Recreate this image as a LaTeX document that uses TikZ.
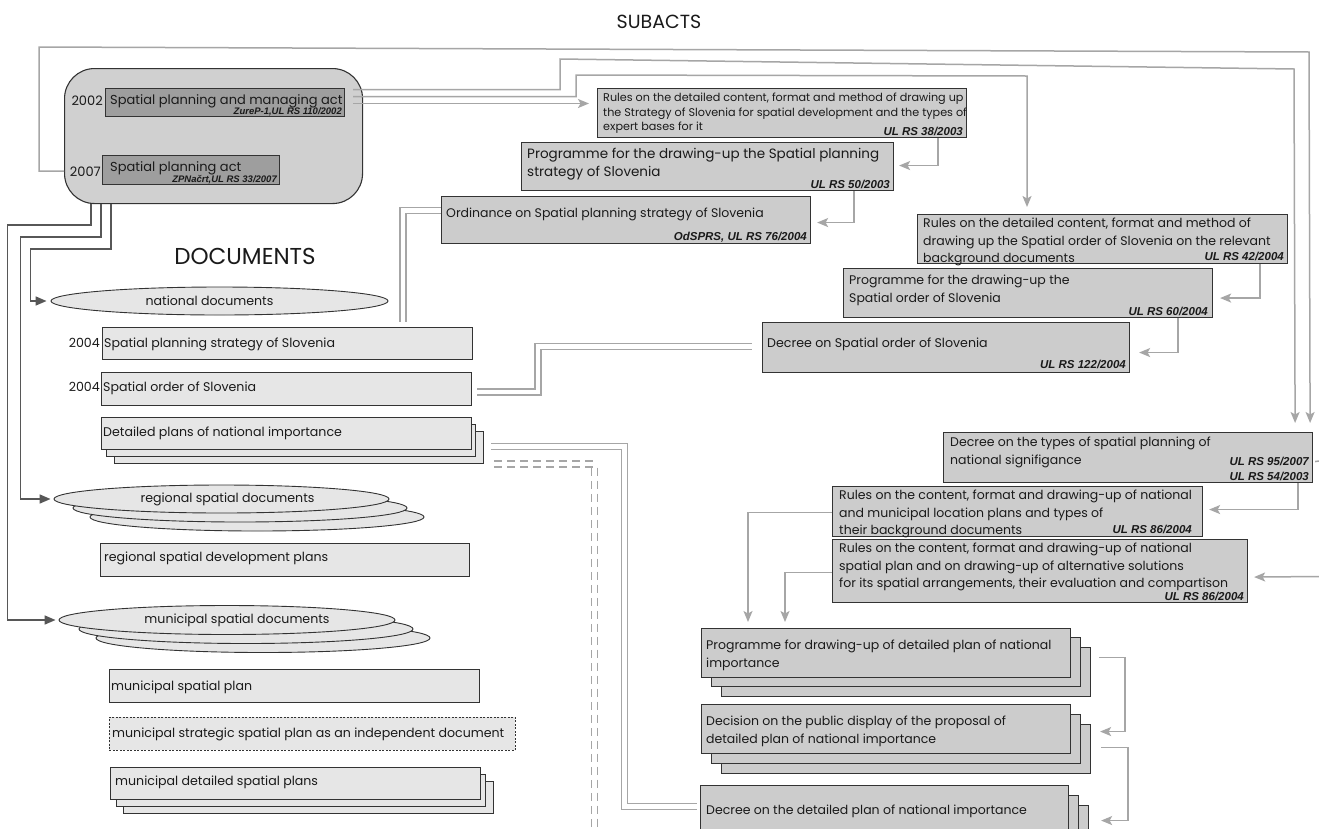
\documentclass[tikz,border=0pt]{standalone}
\usepackage{fontspec}
\setmainfont{Poppins}
\newfontfamily\reffont{Liberation Sans}
\usetikzlibrary{arrows.meta,shapes.geometric,calc}

\definecolor{docfill}{HTML}{E6E6E6}
\definecolor{subfill}{HTML}{CCCCCC}
\definecolor{actfill}{HTML}{D0D0D0}
\definecolor{lawfill}{HTML}{9E9E9E}
\definecolor{edge}{HTML}{333333}
\definecolor{lite}{HTML}{A6A6A6}
\definecolor{dark}{HTML}{575757}
\definecolor{ink}{HTML}{1A1A1A}

\newcommand\actfont{\fontsize{13}{16}\selectfont}
\newcommand\docfont{\fontsize{12.6}{15}\selectfont}
\newcommand\subfont{\fontsize{12.5}{17.3}\selectfont}

\begin{document}
\begin{tikzpicture}[x=1pt,y=-1pt,
  docbox/.style={draw=edge, fill=docfill, line width=1pt, inner sep=0pt, anchor=north west},
  subbox/.style={draw=edge, fill=subfill, line width=1.1pt, inner sep=0pt, anchor=north west},
  lawbox/.style={draw=edge, fill=lawfill, line width=1pt, inner sep=0pt, anchor=north west},
  actframe/.style={draw=edge, fill=actfill, line width=1.1pt, rounded corners=30pt, inner sep=0pt, anchor=north west},
  docell/.style={ellipse, draw=edge, fill=docfill, line width=0.9pt, inner sep=0pt, font=\docfont, text=ink},
  txt/.style={inner sep=0pt, anchor=north west, align=left, text=ink,
    execute at begin node={\vrule width 0pt height 12pt depth 0pt\relax}},
  yr/.style={inner sep=0pt, anchor=base east, text=ink},
  head/.style={inner sep=0pt, text=ink},
  ref/.style={inner sep=0pt, anchor=base east, text=ink,
    font=\reffont\bfseries\itshape\fontsize{11.5}{13}\selectfont},
  actref/.style={ref, font=\reffont\bfseries\itshape\fontsize{9.5}{11}\selectfont},
  lite/.style={draw=lite, line width=1.5pt},
  litearrow/.style={lite, -{Stealth[length=11pt,width=9pt,inset=2.5pt]}},
  darkarrow/.style={draw=dark, line width=1.6pt, -{Triangle[length=11pt,width=9pt]}},
  dbl/.style={draw=lite, line width=1.3pt, double=white, double distance=4.5pt},
]
\useasboundingbox (0,0) rectangle (1319,828);
\fill[white] (0,0) rectangle (1319,828);
\clip (0,0) rectangle (1319,828);

% ---------- headings ----------
\node[head, font=\fontsize{19}{22}\selectfont] (subacts) at (659,22) {SUBACTS};
\node[head, font=\fontsize{23}{26}\selectfont] (documents) at (245,256) {DOCUMENTS};

% ---------- acts ----------
\node[actframe, minimum width=298, minimum height=135] (bigbox) at (64,68) {};
\node[lawbox, minimum width=239, minimum height=28] (a1) at (105,88) {};
\node[lawbox, minimum width=177, minimum height=29] (a2) at (102,155) {};
\node[txt, font=\actfont] (a1t) at (110,92) {Spatial planning and managing act};
\node[txt, font=\actfont] (a2t) at (110,159) {Spatial planning act};
\node[actref] (a1r) at (342,114) {ZureP-1,UL RS 110/2002};
\node[actref] (a2r) at (277,182) {ZPNačrt,UL RS 33/2007};
\node[yr, font=\actfont] (yr02) at (103,105) {2002};
\node[yr, font=\actfont] (yr07) at (101,176) {2007};

% ---------- documents ----------
\node[docell, minimum width=337, minimum height=28] (nat) at (219.5,301) {national documents\hspace*{20pt}};

\node[docbox, minimum width=370, minimum height=32] (strat) at (102,327) {};
\node[txt, font=\docfont] (stratt) at (104,335) {Spatial planning strategy of Slovenia};
\node[yr, font=\docfont] (yrs) at (100,347) {2004};

\node[docbox, minimum width=370, minimum height=33] (order) at (101,372) {};
\node[txt, font=\docfont] (ordert) at (103,379) {Spatial order of Slovenia};
\node[yr, font=\docfont] (yro) at (100,391) {2004};

\node[docbox, minimum width=369, minimum height=32] (det3) at (114,431) {};
\node[docbox, minimum width=369, minimum height=32] (det2) at (106,424) {};
\node[docbox, minimum width=370, minimum height=32] (det1) at (101,417) {};
\node[txt, font=\docfont] (dett) at (103,424) {Detailed plans of national importance};

\node[docell, minimum width=334, minimum height=28] (reg3) at (257,517) {};
\node[docell, minimum width=334, minimum height=28] (reg2) at (240,508) {};
\node[docell, minimum width=335, minimum height=28] (reg1) at (221.5,499) {\hspace*{12pt}regional spatial documents};

\node[docbox, minimum width=369, minimum height=33] (regplan) at (100,543) {};
\node[txt, font=\docfont] (regplant) at (104,549) {regional spatial development plans};

\node[docell, minimum width=334, minimum height=29] (mun3) at (263,638) {};
\node[docell, minimum width=334, minimum height=29] (mun2) at (246,629) {};
\node[docell, minimum width=336, minimum height=29] (mun1) at (227,620) {\hspace*{20pt}municipal spatial documents};

\node[docbox, minimum width=370, minimum height=33] (munplan) at (109,669) {};
\node[txt, font=\docfont] (munplant) at (111,678) {municipal spatial plan};

\node[docbox, dash pattern=on 2pt off 1.5pt, line width=0.8pt, minimum width=406, minimum height=33] (munstrat) at (109,717) {};
\node[txt, font=\docfont] (munstratt) at (112,725) {municipal strategic spatial plan as an independent document};

\node[docbox, minimum width=370, minimum height=32] (mdet3) at (123,781) {};
\node[docbox, minimum width=369, minimum height=32] (mdet2) at (116,774) {};
\node[docbox, minimum width=370, minimum height=32] (mdet1) at (110,767) {};
\node[txt, font=\docfont] (mdett) at (115,773) {municipal detailed spatial plans};

% ---------- subacts ----------
\node[subbox, minimum width=369, minimum height=49] (r1) at (597,88) {};
\node[txt, font=\fontsize{11.2}{14.3}\selectfont] (r1t) at (603,93)
  {Rules on the detailed content, format and method of drawing up\\
   the Strategy of Slovenia for spatial development and the types of\\
   expert bases for it};
\node[ref] (r1r) at (963,135) {UL RS 38/2003};

\node[subbox, minimum width=372, minimum height=48] (p1) at (521,142) {};
\node[txt, font=\fontsize{13.5}{18}\selectfont] (p1t) at (527,148)
  {Programme for the drawing-up the Spatial planning\\ strategy of Slovenia};
\node[ref] (p1r) at (890,188) {UL RS 50/2003};

\node[subbox, minimum width=369, minimum height=47] (o1) at (441,196) {};
\node[txt, font=\fontsize{12.5}{17}\selectfont] (o1t) at (446,205)
  {Ordinance on Spatial planning strategy of Slovenia};
\node[ref] (o1r) at (807,240) {OdSPRS, UL RS 76/2004};

\node[subbox, minimum width=370, minimum height=49] (r2) at (917,214) {};
\node[txt, font=\subfont] (r2t) at (923,218)
  {Rules on the detailed content, format and method of\\
   drawing up the Spatial order of Slovenia on the relevant\\
   background documents};
\node[ref] (r2r) at (1284,260) {UL RS 42/2004};

\node[subbox, minimum width=369, minimum height=49] (p2) at (843,268) {};
\node[txt, font=\fontsize{12.5}{18}\selectfont] (p2t) at (849,275)
  {Programme for the drawing-up the\\ Spatial order of Slovenia};
\node[ref] (p2r) at (1208,315) {UL RS 60/2004};

\node[subbox, minimum width=367, minimum height=50] (d1) at (762,322) {};
\node[txt, font=\fontsize{12.6}{17}\selectfont] (d1t) at (767,335)
  {Decree on Spatial order of Slovenia};
\node[ref] (d1r) at (1126,368) {UL RS 122/2004};

\node[subbox, minimum width=369, minimum height=50] (d2) at (943,432) {};
\node[txt, font=\fontsize{12.5}{18}\selectfont] (d2t) at (950,437)
  {Decree on the types of spatial planning of\\ national signifigance};
\node[ref] (d2r) at (1309,465) {UL RS 95/2007};
\node[ref] (d2s) at (1309,480) {UL RS 54/2003};

\node[subbox, minimum width=370, minimum height=50] (r3) at (832,486) {};
\node[txt, font=\subfont] (r3t) at (839,490)
  {Rules on the content, format and drawing-up of national\\
   and municipal location plans and types of\\
   their background documents};
\node[ref] (r3r) at (1192,533) {UL RS 86/2004};

\node[subbox, minimum width=415, minimum height=63] (r4) at (832,539) {};
\node[txt, font=\subfont] (r4t) at (839,543)
  {Rules on the content, format and drawing-up of national\\
   spatial plan and on drawing-up of alternative solutions\\
   for its spatial arrangements, their evaluation and compartison};
\node[ref] (r4r) at (1244,600) {UL RS 86/2004};

\node[subbox, minimum width=369, minimum height=49] (pd3) at (721,647) {};
\node[subbox, minimum width=369, minimum height=49] (pd2) at (711,637) {};
\node[subbox, minimum width=369, minimum height=49] (pd1) at (701,628) {};
\node[txt, font=\subfont] (pdt) at (706,640)
  {Programme for drawing-up of detailed plan of national\\ importance};

\node[subbox, minimum width=369, minimum height=49] (dp3) at (721,724) {};
\node[subbox, minimum width=369, minimum height=49] (dp2) at (711,714) {};
\node[subbox, minimum width=369, minimum height=49] (dp1) at (701,704) {};
\node[txt, font=\subfont] (dpt) at (706,716)
  {Decision on the public display of the proposal of\\ detailed plan of national importance};

\node[subbox, minimum width=368, minimum height=49] (dd3) at (720,805) {};
\node[subbox, minimum width=368, minimum height=49] (dd2) at (710,795) {};
\node[subbox, minimum width=368, minimum height=49] (dd1) at (700,785) {};
\node[txt, font=\subfont] (ddt) at (706,802)
  {Decree on the detailed plan of national importance};

% ---------- bend points and free ends ----------
\coordinate (t0) at (39,47);
\coordinate (t1) at (1309,52);
\coordinate (u1) at (560,59);
\coordinate (u2) at (1294,69);
\coordinate (v1) at (576,75);
\coordinate (v2) at (1027,76);
\coordinate (e1) at (1319,461);
\coordinate (e2) at (1319,576.5);
\coordinate (s1) at ($(a1.east)+(8,-13)$);
\coordinate (s2) at ($(a1.east)+(8,-6)$);
\coordinate (s3) at ($(a1.east)+(8,1)$);

% ---------- subact connectors ----------
\draw[litearrow] (bigbox.west |- yr07) -| (t0) -- (t1) -- ($(d2.north east)+(-3,-9)$);
\draw[litearrow] (s1) -| (u1) -- (u2) -- ($(d2.north east)+(-18,-9)$);
\draw[litearrow] (s2) -| (v1) -- (v2) -- ($(r2.north west)+(110,-7)$);
\draw[litearrow] (s3) -- ($(s3 -| r1.west)+(-8,0)$);

\draw[litearrow] ($(r1.south east)+(-29,0)$) |- ($(p1.east)+(5,-1)$);
\draw[litearrow] ($(p1.south east)+(-40,0)$) |- ($(o1.east)+(6,2.5)$);
\draw[litearrow] ($(r2.south east)+(-28,0)$) |- ($(p2.east)+(7,5)$);
\draw[litearrow] ($(p2.south east)+(-35,0)$) |- ($(d1.east)+(9,5)$);
\draw[litearrow] ($(d2.south east)+(-15,0)$) |- ($(r3.east)+(6,-2)$);
\draw[lite] ($(d2.east)+(2,4)$) -- (e1);
\draw[litearrow] (e2) -- ($(r4.east)+(6,6)$);
\draw[litearrow] ($(r3.west)+(0,1)$) -| ($(pd1.north west)+(47,-6)$);
\draw[litearrow] ($(r4.west)+(0,1.5)$) -| ($(pd1.north west)+(84,-6)$);
\draw[litearrow] ($(pd3.east)+(8,-14.5)$) -- ++(26,0) |- ($(dp3.east)+(9,-17.5)$);
\draw[litearrow] ($(dp3.east)+(10,-1.5)$) -- ++(27,0) |- ($(dd3.east)+(12,-9.5)$);

% ---------- document connectors ----------
\draw[darkarrow] ($(bigbox.south west)+(27,0)$) -- ++(0,21) -| ($(mun1.west)+(-51,0)$) -- ($(mun1.west)+(-3,0)$);
\draw[darkarrow] ($(bigbox.south west)+(37,0)$) -- ++(0,33) -| ($(reg1.west)+(-33,0)$) -- ($(reg1.west)+(-3,0)$);
\draw[darkarrow] ($(bigbox.south west)+(47,0)$) -- ++(0,45) -| ($(nat.west)+(-20,0)$) -- ($(nat.west)+(-4,0)$);

% ---------- double links ----------
\draw[dbl] ($(o1.west)+(0,-9.5)$) -| ($(strat.north west)+(301,-5)$);
\draw[dbl] ($(order.east)+(5,3)$) -- ++(61,0) |- ($(d1.west)+(-10,-1)$);
\draw[dbl] ($(det1.east)+(19,13)$) -- ++(133.5,0) |- ($(dd1.west)+(-3,-3.5)$);
\draw[dbl, dash pattern=on 8pt off 5pt] ($(det1.east)+(22,30.5)$) -- ++(100.5,0) -- ++(0,370);
\end{tikzpicture}
\end{document}
